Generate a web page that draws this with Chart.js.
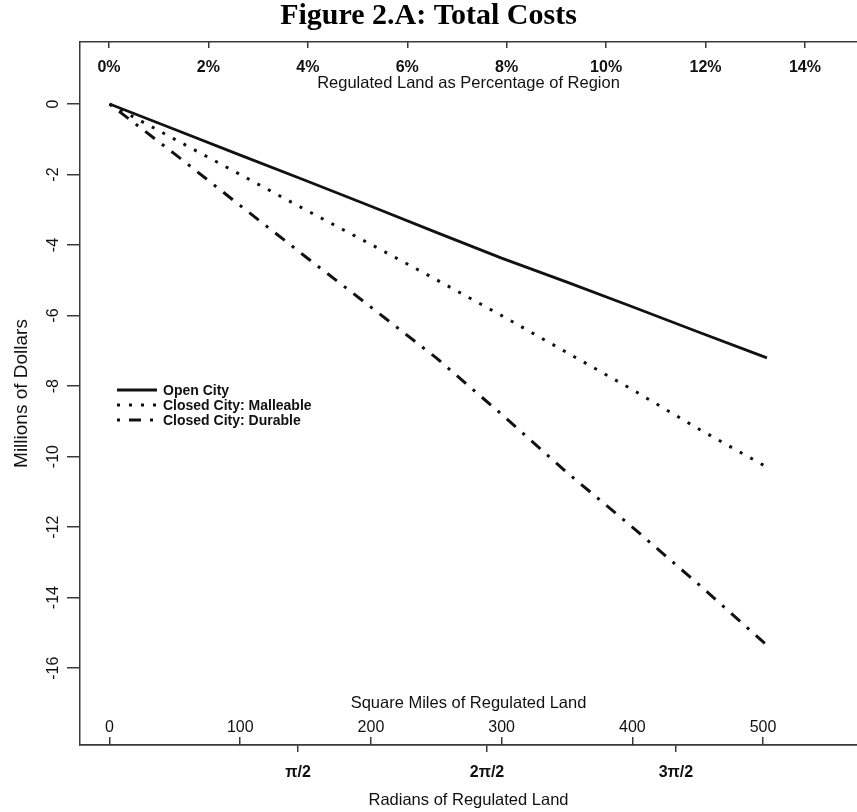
<!DOCTYPE html>
<html>
<head>
<meta charset="utf-8">
<script src="https://cdn.jsdelivr.net/npm/chart.js@4.4.1/dist/chart.umd.min.js"></script>
<style>
  html, body { margin: 0; padding: 0; background: #ffffff; }
  #wrap { position: relative; width: 857px; height: 812px; }
</style>
</head>
<body>
<div id="wrap"><canvas id="costChart" width="857" height="812"></canvas></div>
<script>
// Regulated land (square miles) at which the cost curves are sampled
const squareMiles = [0, 50, 100, 150, 200, 250, 300, 350, 400, 450, 503];
// Total costs, millions of dollars
const openCity        = [0, -0.72, -1.45, -2.17, -2.90, -3.64, -4.37, -5.05, -5.75, -6.46, -7.20];
const closedMalleable = [0, -1.00, -2.00, -3.00, -3.98, -4.98, -6.00, -7.05, -8.10, -9.20, -10.30];
const closedDurable   = [0, -1.42, -2.88, -4.33, -5.76, -7.20, -8.80, -10.45, -12.00, -13.60, -15.35];

const seriesNames = ['Open City', 'Closed City: Malleable', 'Closed City: Durable'];

// Axis ticks
const costTicks    = [0, -2, -4, -6, -8, -10, -12, -14, -16];
const sqMileTicks  = [0, 100, 200, 300, 400, 500];
const percentTicks = [0, 2, 4, 6, 8, 10, 12, 14];
const radianTicks  = [Math.PI / 2, Math.PI, 3 * Math.PI / 2];
const radianLabels = ['π/2', '2π/2', '3π/2'];

const INK = '#111111';
const FRAME = '#3a3a3a';
const SANS = '"Liberation Sans", Arial, sans-serif';

const pairs = (ys) => squareMiles.map((x, i) => ({ x: x, y: ys[i] }));
const fixedTicks = (list) => (scale) => { scale.ticks = list.map(v => ({ value: v })); };

// Legend drawn inside the plotting area, using each dataset's own stroke style
const insetLegend = {
  id: 'insetLegend',
  afterDatasetsDraw(chart, args, opts) {
    const { ctx, chartArea } = chart;
    ctx.save();
    ctx.font = opts.font;
    ctx.fillStyle = INK;
    ctx.textBaseline = 'middle';
    ctx.textAlign = 'left';
    chart.data.datasets.forEach((ds, i) => {
      const x0 = chartArea.left + opts.left;
      const y = chartArea.top + opts.top + i * opts.rowHeight;
      ctx.beginPath();
      ctx.setLineDash(ds.borderDash || []);
      ctx.lineWidth = ds.borderWidth;
      ctx.strokeStyle = ds.borderColor;
      ctx.lineCap = 'butt';
      ctx.moveTo(x0, y);
      ctx.lineTo(x0 + opts.lineLength, y);
      ctx.stroke();
      ctx.setLineDash([]);
      ctx.fillText(ds.label, x0 + opts.lineLength + opts.gap, y + 1);
    });
    ctx.restore();
  }
};

const frameGrid = (tickLength) => ({
  display: true, drawOnChartArea: false, drawTicks: true,
  tickLength: tickLength, color: FRAME, lineWidth: 1.5
});
const frameBorder = { display: true, color: FRAME, width: 1.5 };

new Chart(document.getElementById('costChart'), {
  type: 'line',
  data: {
    datasets: [
      { label: seriesNames[0], data: pairs(openCity), borderColor: INK, borderWidth: 2.8,
        borderDash: [], pointRadius: 0, tension: 0, fill: false },
      { label: seriesNames[1], data: pairs(closedMalleable), borderColor: INK, borderWidth: 3,
        borderDash: [3, 9], pointRadius: 0, tension: 0, fill: false },
      { label: seriesNames[2], data: pairs(closedDurable), borderColor: INK, borderWidth: 3,
        borderDash: [3, 9, 12, 9], pointRadius: 0, tension: 0, fill: false }
    ]
  },
  options: {
    responsive: false,
    animation: false,
    events: [],
    layout: { padding: { left: 0, right: 0, top: 0, bottom: 2 } },
    plugins: {
      legend: { display: false },
      tooltip: { enabled: false },
      title: {
        display: true,
        text: 'Figure 2.A: Total Costs',
        color: '#000000',
        font: { family: '"Liberation Serif", "Times New Roman", serif', size: 30, weight: 'bold', lineHeight: 0.9 },
        padding: { top: 3, bottom: 12 }
      },
      insetLegend: {
        left: 37, top: 348, rowHeight: 15, lineLength: 40, gap: 6,
        font: 'bold 14px ' + SANS
      }
    },
    scales: {
      y: {
        type: 'linear', position: 'left',
        min: -18.18, max: 1.76,
        afterBuildTicks: fixedTicks(costTicks),
        afterFit: (s) => { s.width = 80; },
        grid: frameGrid(13),
        border: frameBorder,
        ticks: { color: INK, font: { family: SANS, size: 16 }, minRotation: 90, maxRotation: 90,
                 crossAlign: 'center', padding: 2, autoSkip: false },
        title: { display: true, text: 'Millions of Dollars', color: INK,
                 font: { family: SANS, size: 19 }, padding: { top: 10, bottom: 0 } }
      },
      x: {
        type: 'linear', position: 'bottom', weight: 0,
        min: -22.6, max: 571.9,
        afterBuildTicks: fixedTicks(sqMileTicks),
        afterFit: (s) => { s.height = 0; },
        grid: frameGrid(-8),
        border: frameBorder,
        ticks: { mirror: true, padding: 8, color: INK, font: { family: SANS, size: 16 },
                 maxRotation: 0, autoSkip: false },
        title: { display: true, text: 'Square Miles of Regulated Land', color: INK,
                 font: { family: SANS, size: 16.5 }, padding: { top: 0, bottom: 32 } }
      },
      xRad: {
        type: 'linear', position: 'bottom', weight: 1,
        min: -0.241, max: 6.217,
        afterBuildTicks: fixedTicks(radianTicks),
        afterFit: (s) => { s.height = 65; },
        grid: frameGrid(7),
        border: frameBorder,
        ticks: { padding: 11, color: INK, font: { family: SANS, size: 16, weight: 'bold' },
                 maxRotation: 0, autoSkip: false,
                 callback: (v, i) => radianLabels[i] },
        title: { display: true, text: 'Radians of Regulated Land', color: INK,
                 font: { family: SANS, size: 16.5 }, padding: { top: 0, bottom: 0 } }
      },
      xPct: {
        type: 'linear', position: 'top',
        min: -0.583, max: 15.047,
        afterBuildTicks: fixedTicks(percentTicks),
        afterFit: (s) => { s.height = 0; },
        grid: frameGrid(-6),
        border: frameBorder,
        ticks: { mirror: true, padding: 16, color: INK, font: { family: SANS, size: 16, weight: 'bold' },
                 maxRotation: 0, autoSkip: false, callback: (v) => v + '%' },
        title: { display: true, text: 'Regulated Land as Percentage of Region', color: INK,
                 font: { family: SANS, size: 16.5 }, padding: { top: 32, bottom: 0 } }
      }
    }
  },
  plugins: [insetLegend]
});
</script>
</body>
</html>
